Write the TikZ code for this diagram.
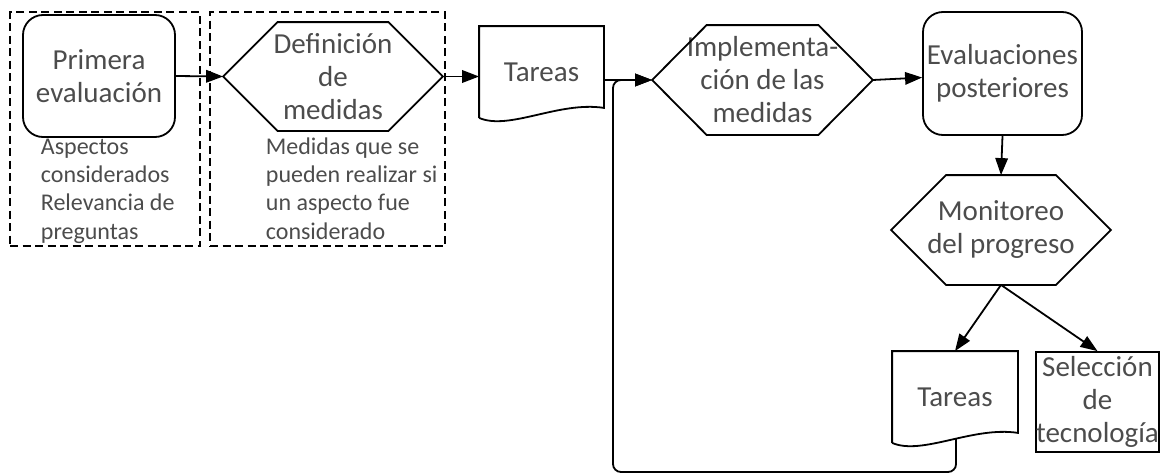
\documentclass[tikz,border=0pt]{standalone}
\usepackage{fontspec}
\setmainfont{Carlito}
\usetikzlibrary{arrows.meta,calc}
\newcommand\drawhexagon[2]{\draw ([xshift=#2]#1.north west) -- ([xshift=-#2]#1.north east) -- (#1.east) -- ([xshift=-#2]#1.south east) -- ([xshift=#2]#1.south west) -- (#1.west) -- cycle;}
\newcommand\drawdocument[1]{\draw (#1.south west) -- (#1.north west) -- (#1.north east) -- ($(#1.south east)+(0,-10)$) .. controls ($(#1.south east)+(-45,-17)$) and ($(#1.south west)+(30,13)$) .. coordinate[pos=0.45] (#1-w) (#1.south west);}
\begin{document}
\begin{tikzpicture}[x=1pt,y=-1pt,
  line width=1.8pt,
  txt/.style={font=\fontsize{29}{33}\selectfont, text=black!70, align=center, inner sep=0pt},
  side/.style={font=\fontsize{24}{28.3}\selectfont, text=black!70, align=left, inner sep=0pt, anchor=base west},
  rbox/.style={txt, draw, rounded corners=20pt},
  sbox/.style={txt, draw},
  frame/.style={txt},
  arr/.style={-{Triangle[length=17pt,width=12.5pt]}},
  cont/.style={draw, dash pattern=on 8pt off 4.5pt, inner sep=0pt}
]
\useasboundingbox (0,0) rectangle (1160,474);
% containers
\node[cont, minimum width=190pt, minimum height=234pt] (c1) at (105,129) {};
\node[cont, minimum width=235pt, minimum height=234pt] (c2) at (327.5,129) {};
% nodes
\node[rbox, minimum width=152pt, minimum height=122pt] (pe) at (99,76) {Primera\\evaluación};
\node[frame, minimum width=218pt, minimum height=107pt] (d1) at (333,76.5) {Definición\\de\\medidas};
\node[frame, minimum width=123pt, minimum height=90pt] (t1) at (541.5,72) {Tareas};
\node[frame, minimum width=219pt, minimum height=108pt] (i2) at (762.5,80) {Implementa-\\ción de las\\medidas};
\node[rbox, minimum width=159pt, minimum height=123pt] (ev) at (1002.5,73.5) {Evaluaciones\\posteriores};
\node[frame, minimum width=218pt, minimum height=108pt] (mon) at (1001,230) {Monitoreo\\del progreso};
\node[frame, minimum width=124pt, minimum height=90pt] (t2) at (955,397) {Tareas};
\node[sbox, minimum width=121pt, minimum height=100pt] (sel) at (1097.5,402) {Selección\\de\\tecnología};
\node[side] (asp) at (40,239) {Aspectos\\considerados\\Relevancia de\\preguntas};
\node[side] (med) at (265,239) {Medidas que se\\pueden realizar si\\un aspecto fue\\considerado};
% shapes
\drawhexagon{d1}{54.5pt}
\drawhexagon{i2}{54.5pt}
\drawhexagon{mon}{55pt}
\drawdocument{t1}
\drawdocument{t2}
\coordinate (fbc) at (613,472);
% connectors
\draw[arr] (pe.east) -- (d1.west);
\draw[arr] (d1.east) -- (d1.east -| t1.west);
\draw[arr] (t1.east |- i2.west) -- (i2.west);
\draw[arr] (i2.east) -- (ev);
\draw[arr] (ev.south) -- (mon.north);
\draw[arr] (mon.south) -- (t2.north);
\draw[arr] (mon.south) -- (sel.north);
\draw[arr, rounded corners=8pt] (t2-w) -- (t2-w |- fbc) -- (fbc) -- (fbc |- i2.west) -- (i2.west);
\end{tikzpicture}
\end{document}
